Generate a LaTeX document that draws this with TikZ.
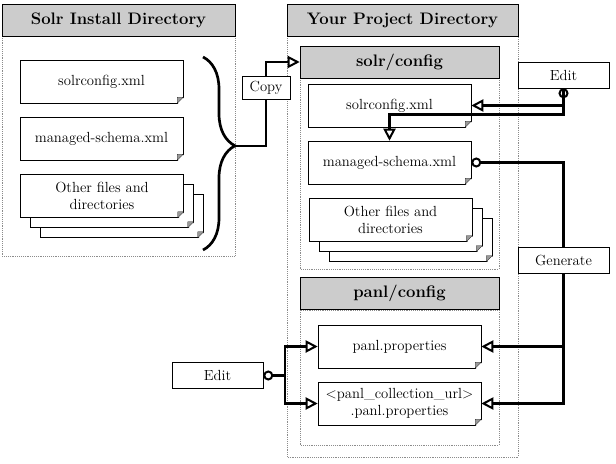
\documentclass[tikz,border=0pt]{standalone}
\usetikzlibrary{positioning}
\usetikzlibrary{calc}
\usetikzlibrary{arrows.meta}
\usetikzlibrary{decorations.pathreplacing}

\tikzset{
  header/.style  = {draw, fill=black!20, inner sep=0pt, minimum height=24pt,
                    font=\fontsize{12.5}{15}\selectfont\bfseries},
  folder/.style  = {draw=black!45, densely dotted, thin},
  file/.style    = {draw, fill=white, align=center, inner sep=0pt,
                    minimum width=122.25pt, minimum height=32.25pt,
                    font=\fontsize{11}{12.5}\selectfont},
  action/.style  = {draw, fill=white, inner sep=0pt, line width=0.4pt,
                    minimum width=68.25pt, minimum height=19.5pt,
                    font=\fontsize{11}{13}\selectfont},
  flow/.style    = {line width=2pt,
                    -{Triangle[open, length=9pt, width=9pt, line width=1.5pt]}},
  knobflow/.style= {line width=2pt,
                    {Circle[open, length=7.5pt, line width=1.5pt]}-{Triangle[open, length=9pt, width=9pt, line width=1.5pt]}},
  knobline/.style= {line width=2pt, {Circle[open, length=7.5pt, line width=1.5pt]}-}
}

\begin{document}
\begin{tikzpicture}[x=0.75pt, y=-0.75pt]
  \useasboundingbox (0,0) rectangle (616,463);

  % folders
  \draw[folder] (2,36) rectangle (235,256);
  \draw[folder] (287,36) rectangle (518,457);
  \draw[folder] (300,78) rectangle (499,269);
  \draw[folder] (300,310) rectangle (499,445);

  % headers
  \node[header, minimum width=174.75pt] (solrdir) at (118.5,20) {Solr Install Directory};
  \node[header, minimum width=173.25pt] (projdir) at (402.5,20) {Your Project Directory};
  \node[header, minimum width=149.25pt] (solrcfg) at (399.5,62) {solr/config};
  \node[header, minimum width=149.25pt] (panlcfg) at (399.5,293.5) {panl/config};

  % solr install files
  \node[file] (sc1) at (101.5,81.5) {solrconfig.xml};
  \node[file] (ms1) at (101.5,138.5) {managed-schema.xml};
  \node[file] (of1c) at (122,216) {};
  \node[file] (of1b) at ([shift={(-7.5pt,7.5pt)}]of1c) {};
  \node[file] (of1a) at ([shift={(-7.5pt,7.5pt)}]of1b) {Other files and\\directories};

  % project files
  \node[file] (sc2) at (389.5,105.5) {solrconfig.xml};
  \node[file] (ms2) at (389.5,162.5) {managed-schema.xml};
  \node[file] (of2c) at (410.5,240) {};
  \node[file] (of2b) at ([shift={(-7.5pt,7.5pt)}]of2c) {};
  \node[file] (of2a) at ([shift={(-7.5pt,7.5pt)}]of2b) {Other files and\\directories};
  \node[file] (pp) at (399.5,346.5) {panl.properties};
  \node[file] (pc) at (399.5,403.5) {\textless panl\_collection\_url\textgreater\\.panl.properties};

  % folded corners
  \foreach \f in {sc1,ms1,of1c,of1b,of1a,sc2,ms2,of2c,of2b,of2a,pp,pc} {
    \fill[white] ($(\f.south east)+(-6,1)$) -- ($(\f.south east)+(1,1)$)
      -- ($(\f.south east)+(1,-6)$) -- cycle;
    \filldraw[fill=black!40, draw=black, very thin] ($(\f.south east)+(-6,0)$)
      -- ($(\f.south east)+(0,-6)$) -- ($(\f.south east)+(-6,-6)$) -- cycle;
  }

  % actions
  \node[action] (edit1) at (563.5,75) {Edit};
  \node[action] (gen) at (563.5,260) {Generate};
  \node[action] (edit2) at (217.5,375.5) {Edit};

  % copy
  \draw[decorate, decoration={brace, amplitude=24pt, aspect=0.46}, line width=2pt]
    (203,57) -- (203,250);
  \coordinate (bracetip) at (235,146);
  \draw[flow] (bracetip) -| (266,87.5)
    node[action, minimum width=36pt, minimum height=17pt] (copy) {Copy} |- (solrcfg.west);

  % edit solr config
  \draw[knobflow] (edit1.south) |- (sc2.east);
  \draw[flow] (edit1.south) -- ($(edit1.south)+(0,26)$) -| (ms2.north);

  % generate panl config
  \draw[knobline] (ms2.east) -| (gen.north);
  \draw[flow] (gen.south) |- (pp.east);
  \draw[flow] (gen.south) |- (pc.east);

  % edit panl config
  \coordinate (editfork) at (285,375.5);
  \draw[knobflow] (edit2.east) -- (editfork) |- (pp.west);
  \draw[flow] (editfork) |- (pc.west);
\end{tikzpicture}
\end{document}
